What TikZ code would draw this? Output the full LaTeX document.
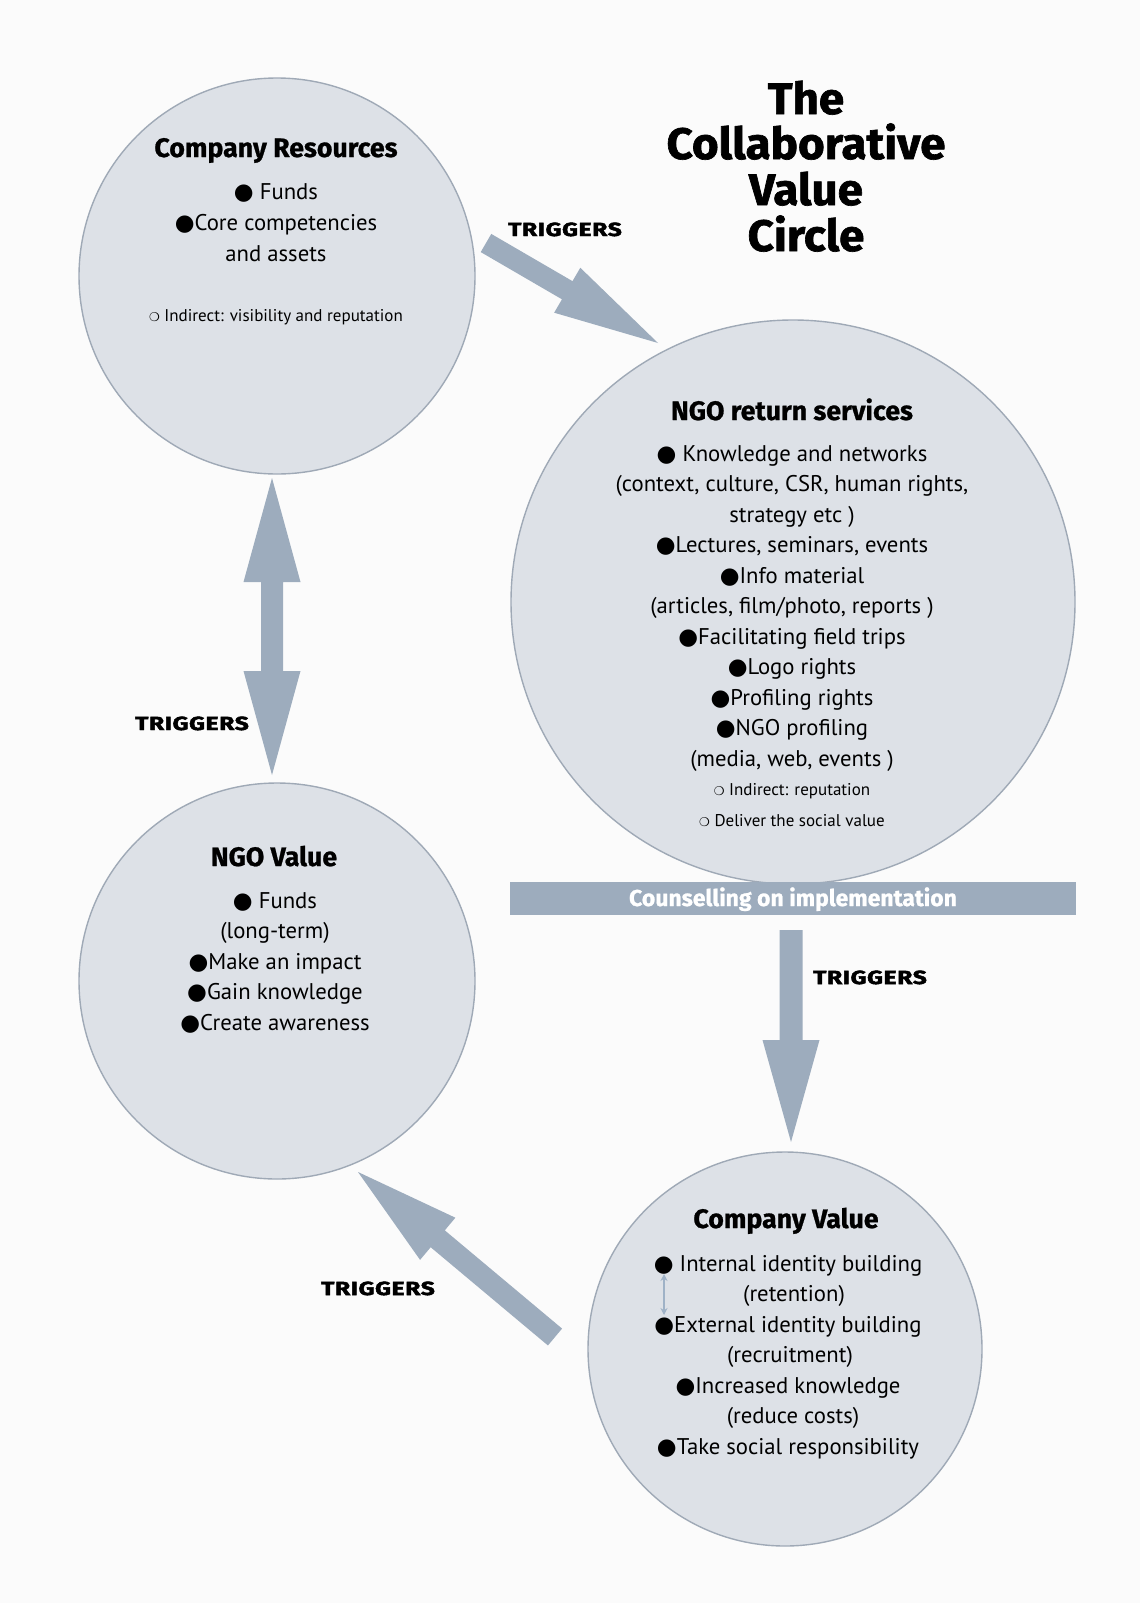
\documentclass[tikz,border=0pt]{standalone}
\usepackage{fontspec}
\setmainfont{PT Sans}
\newfontfamily\symf{DejaVu Sans}
\newfontfamily\titlef{Fira Sans Bold}[FakeBold=1.5, FakeStretch=1.04]
\newfontfamily\trigf{Fira Sans Bold}[FakeBold=2.5, FakeStretch=1.3, LetterSpace=3]
\newfontfamily\headf{Fira Sans Bold}[FakeBold=0.9]
\usetikzlibrary{calc,arrows.meta}
\definecolor{bgc}{HTML}{FBFBFB}
\definecolor{circfill}{HTML}{DDE1E7}
\definecolor{circline}{HTML}{9FA9B6}
\definecolor{arrc}{HTML}{9DACBD}
\definecolor{smallarr}{HTML}{9FB2C7}
\newcommand\bul{{\symf ●}}
\newcommand\obul{{\symf\fontsize{12}{12}\selectfont ❍}}
\newcommand\blockarrow[5]{%
  \path ($(#2)!#5!(#1)$) coordinate (bah);
  \fill[arrc] ($(#1)!#3!90:(#2)$) -- ($(bah)!#3!90:(#2)$) -- ($(bah)!#4!90:(#2)$) -- (#2)
    -- ($(bah)!#4!-90:(#2)$) -- ($(bah)!#3!-90:(#2)$) -- ($(#1)!#3!-90:(#2)$) -- cycle;}
\newcommand\dblarrow[5]{%
  \path ($(#1)!#5!(#2)$) coordinate (dah1) ($(#2)!#5!(#1)$) coordinate (dah2);
  \fill[arrc] (#1) -- ($(dah1)!#4!90:(#2)$) -- ($(dah1)!#3!90:(#2)$) -- ($(dah2)!#3!90:(#2)$)
    -- ($(dah2)!#4!90:(#2)$) -- (#2) -- ($(dah2)!#4!-90:(#2)$) -- ($(dah2)!#3!-90:(#2)$)
    -- ($(dah1)!#3!-90:(#2)$) -- ($(dah1)!#4!-90:(#2)$) -- cycle;}
\tikzset{
  circ/.style={circle, draw=circline, line width=1.4pt, fill=circfill, inner sep=0pt},
  head/.style={anchor=base, font=\fontsize{26.7}{26.7}\headf, inner sep=0pt},
  body/.style={anchor=base, font=\fontsize{22.7}{22.7}\selectfont, inner sep=0pt},
  small/.style={anchor=base, font=\fontsize{17}{17}\selectfont, inner sep=0pt},
  title/.style={anchor=base, font=\fontsize{44}{44}\titlef, inner sep=0pt},
  trig/.style={anchor=base, font=\fontsize{19}{19}\trigf, inner sep=0pt},
}
\begin{document}
\begin{tikzpicture}[x=1pt,y=-1pt]
\useasboundingbox (0,0) rectangle (1140,1603);
\fill[bgc] (0,0) rectangle (1140,1603);

% circles
\node[circ, minimum size=396pt] (c1) at (277,276) {};
\node[circ, minimum size=564pt] (c2) at (793,602) {};
\node[circ, minimum size=396pt] (c3) at (277,981) {};
\node[circ, minimum size=394pt] (c4) at (785,1349) {};

% bar
\node[fill=arrc, minimum width=566pt, minimum height=33pt, inner sep=0pt] (bar) at (793,898.5) {};
\node[anchor=base, font=\fontsize{23}{23}\headf, text=white, inner sep=0pt] (bartext) at (793,906) {Counselling on implementation};

% title
\node[title] (t1) at (806,114) {The};
\node[title] (t2) at (806,159) {Collaborative};
\node[title] (t3) at (806,205) {Value};
\node[title] (t4) at (806,251) {Circle};

% circle 1
\node[head] (h1) at (276,157) {Company Resources};
\node[body] (c1a) at (276,199) {\bul\ Funds};
\node[body] (c1b) at (276,230) {\bul Core competencies};
\node[body] (c1c) at (276,261) {and assets};
\node[small] (c1d) at (276,321) {\obul\ Indirect: visibility and reputation};

% circle 2
\node[head] (h2) at (792,420) {NGO return services};
\foreach \t [count=\i from 0] in {{\bul\ Knowledge and networks},{(context, culture, CSR, human rights,},{strategy etc )},{\bul Lectures, seminars, events},{\bul Info material},{(articles, film/photo, reports )},{\bul Facilitating field trips},{\bul Logo rights},{\bul Profiling rights},{\bul NGO profiling},{(media, web, events )}}
  \node[body] (c2l\i) at (792,461+\i*30.5) {\t};
\node[small] (c2s1) at (792,795) {\obul\ Indirect: reputation};
\node[small] (c2s2) at (792,826) {\obul\ Deliver the social value};

% circle 3
\node[head] (h3) at (274,866) {NGO Value};
\foreach \t [count=\i from 0] in {{\bul\ Funds},{(long-term)},{\bul Make an impact},{\bul Gain knowledge},{\bul Create awareness}}
  \node[body] (c3l\i) at (275,908+\i*30.5) {\t};

% circle 4
\node[head] (h4) at (786,1228) {Company Value};
\foreach \dx/\t [count=\i from 0] in {0/{\bul\ Internal identity building},6/{(retention)},0/{\bul External identity building},2/{(recruitment)},0/{\bul Increased knowledge},5/{(reduce costs)},0/{\bul Take social responsibility}}
  \node[body] (c4l\i) at (788+\dx,1271+\i*30.5) {\t};
\coordinate (sa1) at (664,1274);
\coordinate (sa2) at (664,1315);
\draw[smallarr, line width=2pt, {Stealth[length=7pt,width=7pt]}-{Stealth[length=7pt,width=7pt]}] (sa1) -- (sa2);

% arrows
\coordinate (a1s) at (486,243);
\coordinate (a1e) at (658,343);
\blockarrow{a1s}{a1e}{10.5pt}{26pt}{105pt}
\coordinate (a2s) at (272,478);
\coordinate (a2e) at (272,775);
\dblarrow{a2s}{a2e}{11pt}{28.5pt}{104pt}
\coordinate (a3s) at (791,930);
\coordinate (a3e) at (791,1142);
\blockarrow{a3s}{a3e}{11.5pt}{28.5pt}{102pt}
\coordinate (a4s) at (555,1337);
\coordinate (a4e) at (358,1172);
\blockarrow{a4s}{a4e}{11pt}{27.5pt}{104pt}

% labels
\node[trig] (tr1) at (565,236) {TRIGGERS};
\node[trig] (tr2) at (192,730) {TRIGGERS};
\node[trig] (tr3) at (870,984) {TRIGGERS};
\node[trig] (tr4) at (378,1295) {TRIGGERS};
\end{tikzpicture}
\end{document}
